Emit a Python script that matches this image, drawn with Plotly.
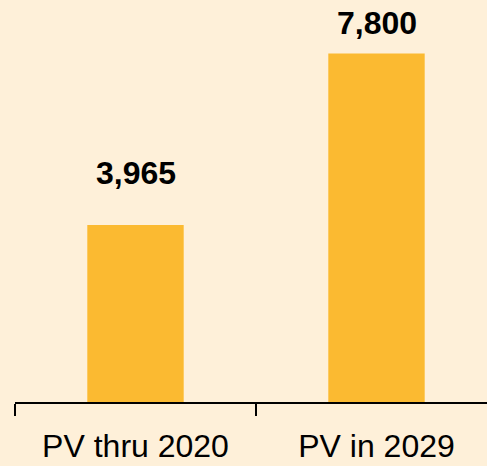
import plotly.graph_objects as go

categories = ["PV thru 2020", "PV in 2029"]
values = [3965, 7800]
value_labels = ["3,965", "7,800"]

BG = "#FEF0D9"
BAR = "#FBBA31"

fig = go.Figure()
fig.add_trace(go.Bar(
    x=categories, y=values,
    marker=dict(color=BAR, line=dict(width=0)),
    width=0.4,
    hoverinfo="skip",
))

label_shift = [52, 31]
for c, v, t, s in zip(categories, values, value_labels, label_shift):
    fig.add_annotation(
        x=c, y=v, text=f"<b>{t}</b>", showarrow=False,
        yanchor="middle", yshift=s,
        font=dict(family="Liberation Sans", size=32, color="#000000"),
    )

fig.update_layout(
    width=487, height=466,
    margin=dict(l=15, r=0, t=0, b=64),
    paper_bgcolor=BG, plot_bgcolor=BG,
    showlegend=False,
    hovermode=False,
    xaxis=dict(
        type="category",
        range=[-0.5, -0.5 + 472 / 241],
        automargin=False,
        showline=True, linecolor="#000000", linewidth=2,
        ticks="outside", tickson="boundaries", ticklen=12, tickwidth=2, tickcolor="#000000",
        tickfont=dict(family="Liberation Sans", size=32, color="#000000"),
        ticklabelstandoff=15,
        showgrid=False, zeroline=False,
    ),
    yaxis=dict(
        range=[0, 9000], visible=False, showgrid=False, zeroline=False, automargin=False,
    ),
)

fig.write_html(
    "out.html",
    config={"displayModeBar": False, "staticPlot": True},
    post_script="document.body.style.margin='0';document.body.style.background='" + BG + "';",
)
